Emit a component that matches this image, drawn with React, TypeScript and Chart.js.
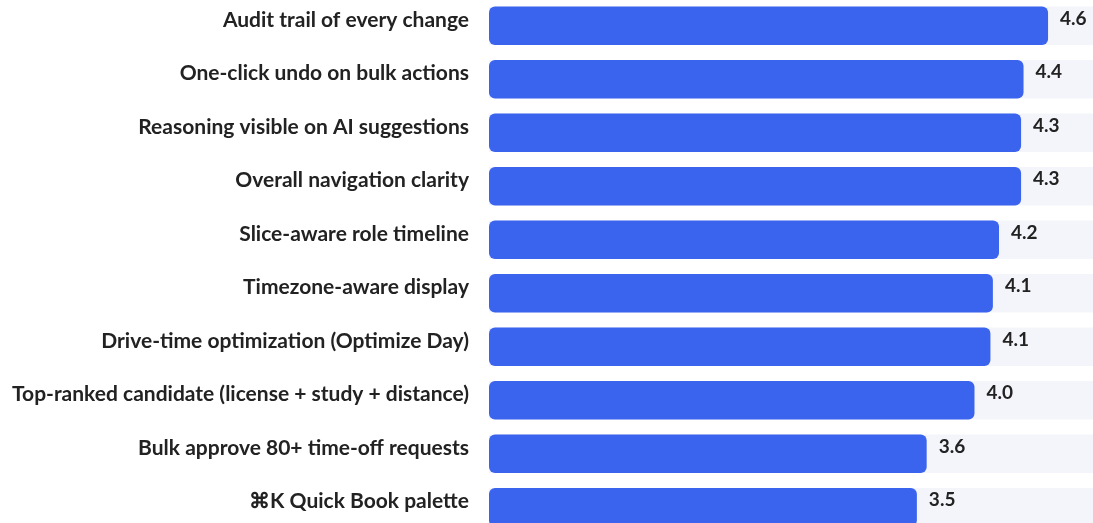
import { useEffect, useRef } from 'react';
import { Chart, registerables } from 'chart.js';

Chart.register(...registerables);

const categories = [
  'Audit trail of every change',
  'One-click undo on bulk actions',
  'Reasoning visible on AI suggestions',
  'Overall navigation clarity',
  'Slice-aware role timeline',
  'Timezone-aware display',
  'Drive-time optimization (Optimize Day)',
  'Top-ranked candidate (license + study + distance)',
  'Bulk approve 80+ time-off requests',
  '⌘K Quick Book palette',
];

const scores = [4.56, 4.36, 4.34, 4.34, 4.16, 4.11, 4.09, 3.96, 3.57, 3.49];

const scaleMax = 5;
const trackValues = categories.map(() => scaleMax);

const BAR_COLOR = '#3a63ee';
const TRACK_COLOR = '#f4f5fa';
const TEXT_COLOR = '#222222';
const FONT_FAMILY = 'Lato, "Noto Sans", sans-serif';
const TEXT_SHIFT = -6;

const valueLabels = {
  id: 'valueLabels',
  afterDatasetsDraw(chart: any) {
    const meta = chart.getDatasetMeta(1);
    const ctx = chart.ctx;
    ctx.save();
    ctx.font = `bold 19px ${FONT_FAMILY}`;
    ctx.fillStyle = TEXT_COLOR;
    ctx.textAlign = 'left';
    ctx.textBaseline = 'middle';
    meta.data.forEach((el: any, i: number) => {
      const v = chart.data.datasets[1].data[i] as number;
      ctx.fillText(v.toFixed(1), el.x + 12, el.y + TEXT_SHIFT - 1);
    });
    ctx.restore();
  },
};

export default function App() {
  const canvasRef = useRef<HTMLCanvasElement | null>(null);

  useEffect(() => {
    if (!canvasRef.current) return;
    const chart = new Chart(canvasRef.current, {
      type: 'bar',
      data: {
        labels: categories,
        datasets: [
          {
            label: 'Track',
            data: trackValues,
            backgroundColor: TRACK_COLOR,
            borderWidth: 0,
            borderRadius: 0,
            grouped: false,
            order: 2,
            barPercentage: 0.716,
            categoryPercentage: 1,
          },
          {
            label: 'Score',
            data: scores,
            backgroundColor: BAR_COLOR,
            borderWidth: 0,
            borderRadius: 6,
            borderSkipped: false,
            grouped: false,
            order: 1,
            barPercentage: 0.716,
            categoryPercentage: 1,
          },
        ],
      },
      options: {
        indexAxis: 'y',
        animation: false,
        responsive: true,
        maintainAspectRatio: false,
        layout: { padding: 0 },
        plugins: {
          legend: { display: false },
          tooltip: { enabled: false },
        },
        scales: {
          x: {
            display: false,
            min: 0,
            max: scaleMax,
          },
          y: {
            grid: { display: false, drawTicks: false },
            border: { display: false },
            ticks: {
              color: TEXT_COLOR,
              padding: 20,
              labelOffset: TEXT_SHIFT,
              font: { family: FONT_FAMILY, size: 21, weight: 'bold' },
            },
            afterFit(scale: any) {
              scale.width = 489;
              scale.paddingTop = 0;
              scale.paddingBottom = 0;
            },
          },
        },
      },
      plugins: [valueLabels],
    });
    return () => chart.destroy();
  }, []);

  return (
    <div style={{ position: 'fixed', top: 0, left: 0, width: 1093, height: 523, overflow: 'hidden', background: '#ffffff' }}>
      <div style={{ position: 'absolute', top: -1.5, left: 0, width: 1102, height: 535 }}>
        <canvas ref={canvasRef} />
      </div>
    </div>
  );
}
